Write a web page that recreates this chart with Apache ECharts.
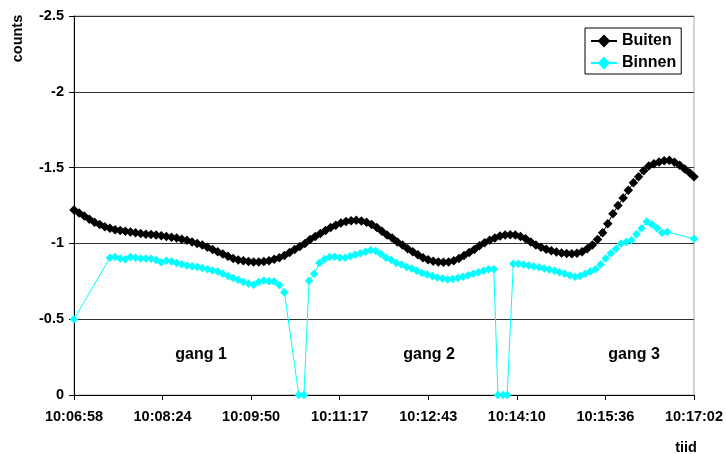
<!DOCTYPE html>
<html>
<head>
<meta charset="utf-8">
<script src="https://cdn.jsdelivr.net/npm/echarts@6/dist/echarts.min.js"></script>
<style>
html,body{margin:0;padding:0;background:#fff;}
#chart{width:726px;height:454px;}
</style>
</head>
<body>
<div id="chart"></div>
<script>
// time in seconds after 10:06:58
const totalSeconds = 604;
const tickLabels = ['10:06:58','10:08:24','10:09:50','10:11:17','10:12:43','10:14:10','10:15:36','10:17:02'];
const yTicks = [-2.5, -2, -1.5, -1, -0.5, 0];

const buitenT = [0,5,10,15,20,25,30,35,40,45,50,55,60,65,70,75,80,85,90,95,100,105,110,115,120,125,130,135,140,145,150,155,160,165,170,175,180,185,190,195,200,205,210,215,220,225,230,235,240,245,250,255,260,265,270,275,280,285,290,295,300,305,310,315,320,325,330,335,340,345,350,355,360,365,370,375,380,385,390,395,400,405,410,415,420,425,430,435,440,445,450,455,460,465,470,475,480,485,490,495,500,505,510,515,520,525,530,535,540,545,550,555,560,565,570,575,580,585,590,595,600,604];
const buitenV = [-1.22,-1.20,-1.18,-1.16,-1.14,-1.125,-1.11,-1.10,-1.09,-1.085,-1.08,-1.075,-1.07,-1.065,-1.06,-1.058,-1.055,-1.05,-1.045,-1.04,-1.035,-1.028,-1.02,-1.01,-1.00,-0.99,-0.975,-0.96,-0.945,-0.93,-0.915,-0.90,-0.89,-0.885,-0.88,-0.878,-0.878,-0.88,-0.885,-0.895,-0.905,-0.92,-0.94,-0.96,-0.98,-1.0,-1.025,-1.045,-1.065,-1.085,-1.105,-1.12,-1.135,-1.145,-1.15,-1.152,-1.148,-1.14,-1.125,-1.105,-1.08,-1.055,-1.035,-1.01,-0.99,-0.965,-0.945,-0.925,-0.905,-0.892,-0.882,-0.877,-0.875,-0.878,-0.885,-0.9,-0.92,-0.94,-0.96,-0.985,-1.005,-1.02,-1.035,-1.048,-1.055,-1.057,-1.055,-1.045,-1.03,-1.01,-0.99,-0.975,-0.962,-0.952,-0.943,-0.937,-0.933,-0.932,-0.935,-0.945,-0.965,-0.99,-1.025,-1.07,-1.13,-1.195,-1.25,-1.30,-1.35,-1.40,-1.44,-1.48,-1.51,-1.525,-1.537,-1.545,-1.548,-1.535,-1.515,-1.49,-1.465,-1.44];

const binnenT = [0,35,40,45,50,55,60,65,70,75,80,85,90,95,100,105,110,115,120,125,130,135,140,145,150,155,160,165,170,175,180,185,190,195,200,205,219,224,229,234,239,244,249,254,259,264,269,274,279,284,289,294,299,304,309,314,319,324,329,334,339,344,349,354,359,364,369,374,379,384,389,394,399,404,409,413,418,422,428,433,438,443,448,453,458,463,468,473,478,483,488,493,498,503,508,513,518,523,528,533,538,543,548,553,558,563,568,573,578,604];
const binnenV = [-0.50,-0.905,-0.91,-0.90,-0.895,-0.91,-0.905,-0.90,-0.90,-0.898,-0.89,-0.875,-0.885,-0.88,-0.87,-0.862,-0.855,-0.85,-0.845,-0.838,-0.83,-0.822,-0.815,-0.80,-0.785,-0.772,-0.76,-0.745,-0.735,-0.727,-0.745,-0.755,-0.75,-0.748,-0.725,-0.676,0,0,-0.753,-0.80,-0.87,-0.895,-0.91,-0.912,-0.905,-0.905,-0.915,-0.925,-0.935,-0.945,-0.955,-0.95,-0.93,-0.905,-0.89,-0.87,-0.86,-0.845,-0.835,-0.82,-0.805,-0.795,-0.785,-0.775,-0.768,-0.762,-0.765,-0.772,-0.78,-0.79,-0.80,-0.81,-0.82,-0.83,-0.83,0,0,0,-0.865,-0.865,-0.86,-0.855,-0.848,-0.843,-0.835,-0.828,-0.82,-0.81,-0.80,-0.79,-0.78,-0.785,-0.80,-0.815,-0.83,-0.86,-0.90,-0.935,-0.965,-1.0,-1.01,-1.02,-1.06,-1.10,-1.145,-1.125,-1.10,-1.07,-1.075,-1.03];

const seriesNames = ['Buiten', 'Binnen'];
const annotations = ['gang 1', 'gang 2', 'gang 3'];

const FONT = '"Liberation Sans", Arial, sans-serif';
const nTicks = tickLabels.length - 1;
const toX = t => t * nTicks / totalSeconds;

const chart = echarts.init(document.getElementById('chart'), null, {renderer: 'canvas'});
chart.setOption({
  animation: false,
  backgroundColor: '#ffffff',
  grid: {left: 74, right: 30, top: 16, bottom: 59, show: true, borderColor: '#a6a6a6', borderWidth: 1, backgroundColor: 'transparent'},
  legend: {
    data: seriesNames,
    orient: 'vertical',
    left: 585, top: 28,
    backgroundColor: '#fff',
    borderColor: '#000', borderWidth: 1,
    padding: [5, 5, 3, 5],
    itemWidth: 26, itemHeight: 16, itemGap: 6,
    textStyle: {fontFamily: FONT, fontWeight: 'bold', fontSize: 16, color: '#000', lineHeight: 16}
  },
  xAxis: {
    type: 'value', min: 0, max: nTicks, interval: 1,
    axisLine: {show: true, lineStyle: {color: '#000', width: 1}},
    axisTick: {show: true, length: 5, lineStyle: {color: '#000'}},
    splitLine: {show: false},
    axisLabel: {
      margin: 14, color: '#000', fontFamily: FONT, fontWeight: 'bold', fontSize: 14.5,
      formatter: v => tickLabels[Math.round(v)] || ''
    }
  },
  yAxis: {
    type: 'value', inverse: true, min: yTicks[0], max: yTicks[yTicks.length - 1], interval: 0.5,
    axisLine: {show: true, lineStyle: {color: '#000', width: 1}},
    axisTick: {show: true, length: 5, lineStyle: {color: '#000'}},
    splitLine: {show: true, lineStyle: {color: '#333', width: 1}},
    axisLabel: {margin: 10, color: '#000', fontFamily: FONT, fontWeight: 'bold', fontSize: 14.5,
      formatter: v => String(v)}
  },
  series: [
    {
      name: seriesNames[1], type: 'line',
      data: binnenT.map((t, i) => [toX(t), binnenV[i]]),
      symbol: 'diamond', symbolSize: 8.5, showSymbol: true,
      lineStyle: {color: '#00ffff', width: 1},
      itemStyle: {color: '#00ffff', borderWidth: 0},
      z: 2
    },
    {
      name: seriesNames[0], type: 'line',
      data: buitenT.map((t, i) => [toX(t), buitenV[i]]),
      symbol: 'diamond', symbolSize: 9.5, showSymbol: true,
      lineStyle: {color: '#000', width: 1},
      itemStyle: {color: '#000', borderWidth: 0},
      z: 3
    }
  ],
  graphic: [
    {type: 'text', x: 18, y: 38.5, rotation: Math.PI / 2,
      style: {text: 'counts', font: 'bold 14.5px ' + FONT, fill: '#000', align: 'center', verticalAlign: 'middle'}},
    {type: 'text', x: 686, y: 448,
      style: {text: 'tiid', font: 'bold 14.5px ' + FONT, fill: '#000', align: 'center', verticalAlign: 'middle'}},
    {type: 'text', x: 201, y: 355,
      style: {text: annotations[0], font: 'bold 16px ' + FONT, fill: '#000', align: 'center', verticalAlign: 'middle'}},
    {type: 'text', x: 429, y: 355,
      style: {text: annotations[1], font: 'bold 16px ' + FONT, fill: '#000', align: 'center', verticalAlign: 'middle'}},
    {type: 'text', x: 634, y: 355,
      style: {text: annotations[2], font: 'bold 16px ' + FONT, fill: '#000', align: 'center', verticalAlign: 'middle'}}
  ]
});
</script>
</body>
</html>
